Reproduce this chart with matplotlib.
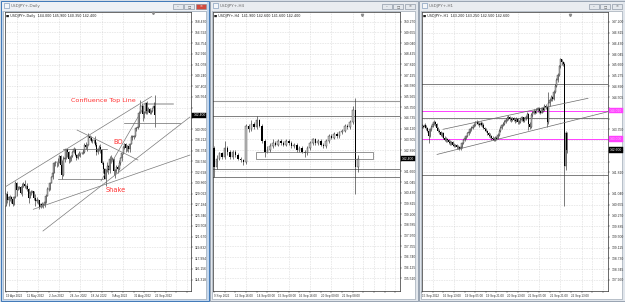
import numpy as np
import matplotlib.pyplot as plt
from matplotlib.patches import Rectangle
from matplotlib.transforms import blended_transform_factory

W, H = 625, 302

# ---------------- data ----------------
# Daily USDJPY+ (19 Apr 2022 .. 22 Sep 2022), open of a bar = previous close
daily_open0 = 126.9
daily_close = [128.9, 127.9, 128.4, 128.5, 128.1, 127.2, 128.4, 130.8, 129.7,
               130.1, 130.1, 129.1, 130.2, 130.6, 130.3, 130.4, 129.9, 128.3, 129.2, 129.1,
               129.4, 128.2, 127.8, 127.9, 127.9, 126.8, 127.3, 127.1, 127.1, 127.6, 128.7,
               129.8, 129.9, 130.9, 131.9, 132.6, 134.2, 134.4, 134.4, 134.4, 135.5, 133.9,
               132.2, 135.0, 135.1, 136.6, 136.2, 134.9, 135.2, 135.4, 136.1, 136.6, 135.7,
               135.2, 135.7, 135.9, 135.9, 136.0, 136.1, 137.4, 137.0, 137.4, 138.9, 138.5,
               138.1, 138.2, 138.2, 137.3, 136.1, 136.6, 137.0, 136.5, 134.3, 133.3,
               131.6, 133.2, 133.8, 133.0, 135.0, 134.9, 135.0, 132.9, 133.0, 133.5, 133.3,
               134.2, 135.1, 135.9, 137.0, 137.5, 136.8, 137.1, 136.6, 137.5, 138.7, 138.7, 138.9,
               140.2, 140.2, 140.5, 142.8, 144.0, 144.1, 142.6, 142.8, 144.6, 143.2, 143.5,
               142.9, 143.2, 143.7, 144.0, 142.4]
daily_high = [129.08, 129.4, 128.7, 128.8, 128.6, 128.3, 128.6, 131.25, 131.0,
              130.4, 130.4, 130.4, 130.8, 131.0, 131.35, 130.5, 130.8, 130.0, 129.4, 129.7,
              129.5, 129.5, 128.9, 128.4, 128.1, 128.0, 127.4, 127.6, 127.4, 128.0, 128.9,
              130.2, 130.2, 131.0, 132.0, 133.0, 134.5, 134.6, 134.5, 135.2, 135.6, 135.6,
              134.7, 135.4, 135.4, 136.7, 136.7, 136.3, 135.4, 135.6, 136.4, 137.0, 136.9,
              135.8, 135.9, 136.4, 136.0, 136.2, 136.6, 137.7, 137.8, 137.6, 139.4, 139.1,
              138.9, 138.4, 138.4, 138.9, 137.9, 136.8, 137.4, 137.5, 136.6, 134.6,
              133.4, 133.3, 134.5, 134.0, 135.5, 135.6, 135.3, 135.2, 133.3, 134.0, 133.9,
              134.7, 135.3, 136.0, 137.2, 137.7, 137.7, 137.3, 137.1, 137.7, 139.0, 139.0, 139.1,
              140.2, 140.4, 140.8, 143.1, 145.0, 144.5, 144.2, 143.1, 144.7, 144.9, 143.8,
              143.6, 143.4, 143.7, 144.7, 145.9]
daily_low = [126.9, 127.5, 127.0, 127.8, 127.5, 126.9, 127.1, 128.3, 128.6,
             129.6, 129.8, 128.9, 128.6, 130.1, 130.0, 129.8, 129.4, 127.5, 128.3, 128.8,
             128.6, 128.0, 127.0, 127.5, 127.2, 126.36, 126.6, 126.8, 126.6, 126.8, 127.5,
             128.6, 129.5, 129.7, 130.8, 131.6, 132.5, 133.8, 133.5, 133.8, 134.2, 133.6,
             131.5, 132.1, 134.5, 135.0, 135.3, 134.3, 134.5, 134.6, 135.3, 136.0, 135.5,
             134.8, 135.0, 135.4, 135.3, 135.8, 135.8, 136.0, 136.6, 136.3, 137.3, 138.2,
             137.8, 137.7, 137.7, 137.1, 135.6, 135.8, 136.3, 135.9, 134.1, 132.5,
             131.6, 130.4, 132.8, 132.4, 132.6, 134.4, 134.7, 132.3, 131.7, 132.6, 132.6,
             133.0, 133.9, 134.6, 135.8, 136.7, 136.2, 136.3, 136.2, 136.2, 137.5, 138.2, 138.4,
             138.8, 139.7, 140.0, 140.5, 142.8, 143.2, 141.5, 141.9, 142.6, 142.6, 143.0,
             142.6, 142.7, 143.0, 142.7, 140.35]
daily_labels = ["19 Apr 2022", "11 May 2022", "2 Jun 2022", "24 Jun 2022",
                "18 Jul 2022", "9 Aug 2022", "31 Aug 2022", "22 Sep 2022"]

# H4 USDJPY+
h4_open0 = 143.0
h4_close = [141.9, 142.4, 142.7, 142.5, 143.0, 142.8, 142.5, 142.8, 142.6, 142.4,
            142.3, 142.2, 144.3, 144.1, 144.4, 144.2, 144.6, 144.3, 143.4, 142.8,
            142.9, 143.1, 143.3, 143.2, 143.4, 143.3, 143.2, 143.4, 143.3, 143.1,
            143.2, 142.9, 143.0, 142.8, 142.7, 143.0, 143.3, 143.5, 143.3, 143.4,
            143.2, 143.1, 143.4, 143.7, 143.6, 143.8, 143.7, 143.9, 144.0, 144.3,
            144.2, 144.5, 145.2, 141.9, 142.4]
h4_high = [143.1, 142.6, 142.8, 142.8, 143.4, 143.1, 142.9, 142.9, 142.9, 142.7,
           142.5, 142.4, 144.4, 144.4, 144.6, 144.5, 144.85, 144.7, 144.4, 143.5,
           143.1, 143.3, 143.5, 143.4, 143.5, 143.5, 143.4, 143.5, 143.5, 143.4,
           143.3, 143.3, 143.1, 143.1, 142.9, 143.1, 143.4, 143.6, 143.6, 143.5,
           143.5, 143.3, 143.5, 143.8, 143.8, 143.9, 143.9, 144.0, 144.1, 144.4,
           144.4, 144.6, 145.4, 145.9, 142.6]
h4_low = [141.35, 141.8, 142.3, 142.4, 142.4, 142.6, 142.4, 142.4, 142.5, 142.3,
          142.2, 142.0, 142.1, 143.9, 144.0, 144.1, 144.1, 144.2, 143.3, 142.5,
          142.7, 142.8, 143.0, 143.1, 143.1, 143.2, 143.1, 143.1, 143.2, 143.0,
          143.0, 142.8, 142.8, 142.7, 142.5, 142.6, 142.9, 143.2, 143.2, 143.2,
          143.1, 143.0, 143.0, 143.3, 143.5, 143.5, 143.6, 143.6, 143.8, 143.9,
          144.1, 144.1, 144.4, 140.35, 141.6]
h4_labels = ["9 Sep 2022", "12 Sep 16:00", "14 Sep 00:00", "15 Sep 08:00",
             "16 Sep 16:00", "20 Sep 00:00", "21 Sep 08:00"]

# H1 USDJPY+
h1_open0 = 143.45
h1_close = [143.48, 143.42, 143.50, 143.38, 143.30, 143.10, 143.35, 143.45, 143.55, 143.62,
            143.55, 143.40, 143.30, 143.25, 143.15, 143.20, 143.05, 142.98, 143.00, 142.95,
            142.90, 142.85, 142.88, 142.80, 142.75, 142.78, 142.70, 142.72, 142.66, 142.70,
            142.85, 142.95, 143.05, 143.10, 143.20, 143.25, 143.35, 143.40, 143.45, 143.52,
            143.60, 143.62, 143.55, 143.50, 143.58, 143.52, 143.40, 143.35, 143.30, 143.20,
            143.15, 143.10, 143.05, 143.00, 142.98, 143.05, 143.02, 143.15, 143.30, 143.40,
            143.50, 143.55, 143.62, 143.70, 143.75, 143.80, 143.72, 143.68, 143.75, 143.70,
            143.65, 143.72, 143.60, 143.62, 143.70, 143.78, 143.65, 143.72, 143.80, 143.90,
            143.55, 143.45, 143.85, 143.95, 144.00, 143.95, 144.05, 144.10, 144.00, 143.95,
            144.10, 144.05, 144.20, 144.15, 143.60, 144.30, 144.40, 144.50, 144.45, 144.70,
            144.90, 145.10, 145.30, 145.60, 145.85, 145.75, 145.70, 142.05, 143.20, 142.60]
h1_high = [143.55, 143.52, 143.56, 143.52, 143.42, 143.33, 143.40, 143.50, 143.62, 143.68,
           143.66, 143.58, 143.44, 143.35, 143.30, 143.26, 143.24, 143.10, 143.06, 143.04,
           143.00, 142.95, 142.94, 142.92, 142.85, 142.84, 142.82, 142.78, 142.76, 142.76,
           142.90, 143.00, 143.10, 143.16, 143.25, 143.32, 143.40, 143.46, 143.52, 143.58,
           143.66, 143.68, 143.66, 143.60, 143.64, 143.62, 143.56, 143.45, 143.40, 143.34,
           143.24, 143.20, 143.14, 143.10, 143.06, 143.10, 143.10, 143.20, 143.35, 143.46,
           143.55, 143.62, 143.68, 143.76, 143.82, 143.86, 143.84, 143.78, 143.80, 143.80,
           143.74, 143.78, 143.75, 143.68, 143.75, 143.84, 143.80, 143.78, 143.86, 143.96,
           143.92, 143.60, 143.92, 144.02, 144.06, 144.05, 144.10, 144.16, 144.14, 144.05,
           144.15, 144.14, 144.26, 144.25, 144.18, 144.68, 144.48, 144.58, 144.56, 144.76,
           144.96, 145.18, 145.36, 145.66, 145.90, 145.88, 145.80, 145.75, 143.30, 143.25]
h1_low = [143.40, 143.38, 143.40, 143.32, 143.25, 142.85, 143.08, 143.30, 143.42, 143.50,
          143.48, 143.35, 143.25, 143.18, 143.10, 143.08, 143.00, 142.92, 142.90, 142.88,
          142.84, 142.80, 142.80, 142.74, 142.70, 142.70, 142.65, 142.66, 142.60, 142.62,
          142.68, 142.82, 142.92, 143.00, 143.06, 143.15, 143.20, 143.30, 143.36, 143.42,
          143.48, 143.55, 143.50, 143.44, 143.46, 143.45, 143.35, 143.28, 143.24, 143.15,
          143.08, 143.04, 142.98, 142.95, 142.92, 142.94, 142.96, 143.00, 143.12, 143.26,
          143.36, 143.46, 143.50, 143.58, 143.65, 143.70, 143.66, 143.62, 143.64, 143.64,
          143.58, 143.60, 143.55, 143.55, 143.58, 143.66, 143.60, 143.60, 143.68, 143.76,
          143.33, 143.35, 143.40, 143.80, 143.90, 143.88, 143.92, 143.98, 143.95, 143.88,
          143.92, 143.98, 144.00, 144.08, 143.43, 143.55, 144.20, 144.35, 144.38, 144.40,
          144.65, 144.85, 145.05, 145.25, 145.55, 145.65, 145.60, 140.62, 141.90, 142.50]
h1_labels = ["15 Sep 2022", "16 Sep 13:00", "19 Sep 05:00", "19 Sep 21:00",
             "20 Sep 13:00", "21 Sep 05:00", "21 Sep 21:00", "22 Sep 13:00"]

# drawn objects, in (bar, price)
daily_trendlines = [((-0.75, 130.16), (109.5, 145.64)),
                    ((20.5, 126.35), (138.3, 135.63)),
                    ((27.8, 122.64), (138.3, 142.13)),
                    ((71.4, 131.19), (102.3, 143.33)),
                    ((53.4, 139.91), (99.2, 134.78))]
daily_levels = [(42.9, 75.9, 136.61), (39.1, 72.9, 131.53), (88.7, 130.8, 141.05)]
daily_top_level = (103.8, 125.6, 144.36)

h4_levels = [145.71, 144.82, 141.77, 141.32]
h4_box = (15.6, 59.6, 142.36, 142.76)

h1_levels = [144.96, 143.74, 141.71]
h1_magenta = [144.02, 143.00]
h1_channel = [((15.8, 143.35), (124.8, 144.46)), ((11.3, 142.45), (139.8, 143.98))]

TICK_FONT = 'Liberation Sans'

# ---------------- figure ----------------
fig = plt.figure(figsize=(W / 100, H / 100), dpi=100)
bg = fig.add_axes([0, 0, 1, 1])
bg.set_xlim(0, W)
bg.set_ylim(H, 0)
bg.axis('off')
bg.add_patch(Rectangle((0, 0), W, H, color='#d6dde6', zorder=0))

windows = [(0, 209, 'USDJPY+,Daily', True),
           (209, 418, 'USDJPY+,H4', False),
           (418, 625, 'USDJPY+,H1', False)]
for x0, x1, title, active in windows:
    frame = '#c3d7ee' if active else '#e1e6ec'
    edge = '#3f78b8' if active else '#98a4b2'
    bg.add_patch(Rectangle((x0 + 0.5, 0.5), x1 - x0 - 1, H - 2, fc=frame, ec=edge, lw=0.7))
    # title bar
    bg.add_patch(Rectangle((x0 + 2, 1.5), x1 - x0 - 4, 9, fc='#eef1f5' if active else '#e9ecf0',
                           ec='none'))
    bg.add_patch(Rectangle((x0 + 3, 11), x1 - x0 - 6, H - 14.5, fc='white', ec='#8d99a6', lw=0.4))
    bg.add_patch(Rectangle((x0 + 4, 3), 5, 5, fc='#f4f6f9', ec='#6d8cb0', lw=0.4))
    bg.text(x0 + 11, 6, title, fontsize=3, color='#6a6a6a', va='center')
    for k, glyph in enumerate(['\u2013', '\u25a1', '\u2715']):
        bx = x1 - 36 + k * 11.3
        fc = '#d24a3e' if (active and k == 2) else '#e4e8ed'
        bg.add_patch(Rectangle((bx, 3.5), 10, 5.5, fc=fc, ec='#7b8796', lw=0.4))
        bg.text(bx + 5, 6.3, glyph, fontsize=2.5, ha='center', va='center',
                color='white' if (active and k == 2) else '#505050')


def px_axes(x0, y0, x1, y1):
    return fig.add_axes([x0 / W, 1 - y1 / H, (x1 - x0) / W, (y1 - y0) / H])


def draw_candles(ax, open0, close, high, low, width):
    close = np.asarray(close)
    opens = np.concatenate([[open0], close[:-1]])
    x = np.arange(len(close))
    up = close >= opens
    ax.vlines(x, low, high, color='#303030', lw=0.45, zorder=3)
    ax.bar(x[up], (close - opens)[up], bottom=opens[up], width=width,
           color='#c4c4c4', edgecolor='#202020', lw=0.25, zorder=4)
    ax.bar(x[~up], (opens - close)[~up], bottom=close[~up], width=width,
           color='black', lw=0, zorder=4)
    return opens


def setup_chart(ax, xlim, ylim, ytop, ystep, label_every, grid_every, labels):
    ax.set_xlim(xlim)
    ax.set_ylim(ylim)
    yt = ytop - ystep * np.arange(25)
    ax.yaxis.tick_right()
    ax.set_yticks(yt)
    ax.set_yticklabels([f'{v:.3f}' for v in yt], fontsize=2.4, color='#303030',
                       fontfamily=TICK_FONT)
    xt = np.arange(len(labels)) * label_every
    ax.set_xticks(xt)
    ax.set_xticklabels(labels, fontsize=2.2, ha='left', color='#303030', fontfamily=TICK_FONT)
    ax.set_xticks(np.arange(0, xlim[1], grid_every), minor=True)
    ax.tick_params(which='both', length=1.2, width=0.3, pad=0.8, colors='#303030')
    ax.tick_params(axis='y', pad=1.5)
    ax.grid(True, which='minor', axis='x', linestyle=(0, (1, 2)), color='#bcbcbc', lw=0.4)
    ax.grid(True, which='major', axis='y', linestyle=(0, (1, 2)), color='#bcbcbc', lw=0.4)
    for s in ax.spines.values():
        s.set_linewidth(0.5)
        s.set_color('#303030')
    ax._ystep = ystep


def price_box(ax, y, fc, tc):
    # hide the axis label that the box covers
    for t, lab in zip(ax.get_yticks(), ax.get_yticklabels()):
        if abs(t - y) < ax._ystep * 0.75:
            lab.set_visible(False)
    tr = blended_transform_factory(ax.transAxes, ax.transData)
    ax.text(1.012, y, f'{y:.3f}', transform=tr, fontsize=2.4, color=tc, va='center',
            ha='left', zorder=10, clip_on=False, fontfamily=TICK_FONT,
            bbox=dict(boxstyle='square,pad=0.25', fc=fc, ec=fc, lw=0.3))


def header(ax, name, opens, close, high, low):
    ax.text(0.008, 0.992, f'\u25a0 {name}  {opens[-1]:.3f} {high[-1]:.3f} {low[-1]:.3f} {close[-1]:.3f}',
            transform=ax.transAxes, fontsize=2.4, va='top', ha='left', color='#202020')


# ---------------- panel 1: daily ----------------
ax1 = px_axes(5, 12, 191, 291)
setup_chart(ax1, (-0.75, 139.1), (112.38, 160.09), 158.43, 1.838, 16, 8, daily_labels)
o1 = draw_candles(ax1, daily_open0, daily_close, daily_high, daily_low, 0.75)
header(ax1, 'USDJPY+,Daily', o1, daily_close, daily_high, daily_low)
for (xa, ya), (xb, yb) in daily_trendlines:
    ax1.plot([xa, xb], [ya, yb], color='#7a7a7a', lw=0.5, zorder=5)
for xa, xb, y in daily_levels:
    ax1.plot([xa, xb], [y, y], color='#6a6a6a', lw=0.5, zorder=5)
ax1.plot(daily_top_level[:2], [daily_top_level[2]] * 2, color='#b0b0b0', lw=1.1, zorder=2)
red = '#ff3030'
ax1.text(73.3, 145.04, 'Confluence Top Line', color=red, fontsize=4.6, ha='center',
         va='center', zorder=6)
ax1.text(84.2, 137.91, 'BO', color=red, fontsize=4.8, ha='center', va='center', zorder=6)
ax1.text(82.3, 129.65, 'Shake', color=red, fontsize=4.8, ha='center', va='center', zorder=6)
price_box(ax1, daily_close[-1], 'black', 'white')
ax1.plot([110.5], [159.9], marker='v', ms=1.6, color='#8a8a8a', clip_on=False, zorder=6)

# ---------------- panel 2: H4 ----------------
ax2 = px_axes(213, 12, 399.5, 291)
setup_chart(ax2, (-0.37, 69.5), (134.78, 150.83), 150.27, 0.615, 8, 4, h4_labels)
o2 = draw_candles(ax2, h4_open0, h4_close, h4_high, h4_low, 0.6)
header(ax2, 'USDJPY+,H4', o2, h4_close, h4_high, h4_low)
for i, y in enumerate(h4_levels):
    ax2.axhline(y, color='#9a9a9a' if i == 0 else '#6a6a6a', lw=0.8 if i == 0 else 0.6, zorder=2)
ax2.add_patch(Rectangle((h4_box[0], h4_box[2]), h4_box[1] - h4_box[0], h4_box[3] - h4_box[2],
                        fc='none', ec='#6a6a6a', lw=0.5, zorder=5))
price_box(ax2, h4_close[-1], 'black', 'white')
ax2.plot([55.3], [150.65], marker='v', ms=1.6, color='#8a8a8a', clip_on=False, zorder=6)

# ---------------- panel 3: H1 ----------------
ax3 = px_axes(421.7, 12, 607.7, 291)
setup_chart(ax3, (-0.23, 139.6), (137.56, 147.55), 147.2, 0.385, 16, 8, h1_labels)
o3 = draw_candles(ax3, h1_open0, h1_close, h1_high, h1_low, 0.75)
header(ax3, 'USDJPY+,H1', o3, h1_close, h1_high, h1_low)
for y in h1_levels:
    ax3.axhline(y, color='#6a6a6a', lw=0.6, zorder=2)
for y in h1_magenta:
    ax3.axhline(y, color='#ff40ff', lw=0.7, zorder=2)
    price_box(ax3, y, '#ff40ff', '#ffc0ff')
for (xa, ya), (xb, yb) in h1_channel:
    ax3.plot([xa, xb], [ya, yb], color='#6a6a6a', lw=0.5, zorder=5)
price_box(ax3, h1_close[-1], 'black', 'white')
ax3.plot([111], [147.45], marker='v', ms=1.6, color='#8a8a8a', clip_on=False, zorder=6)

fig.savefig('out.png', dpi=100)
